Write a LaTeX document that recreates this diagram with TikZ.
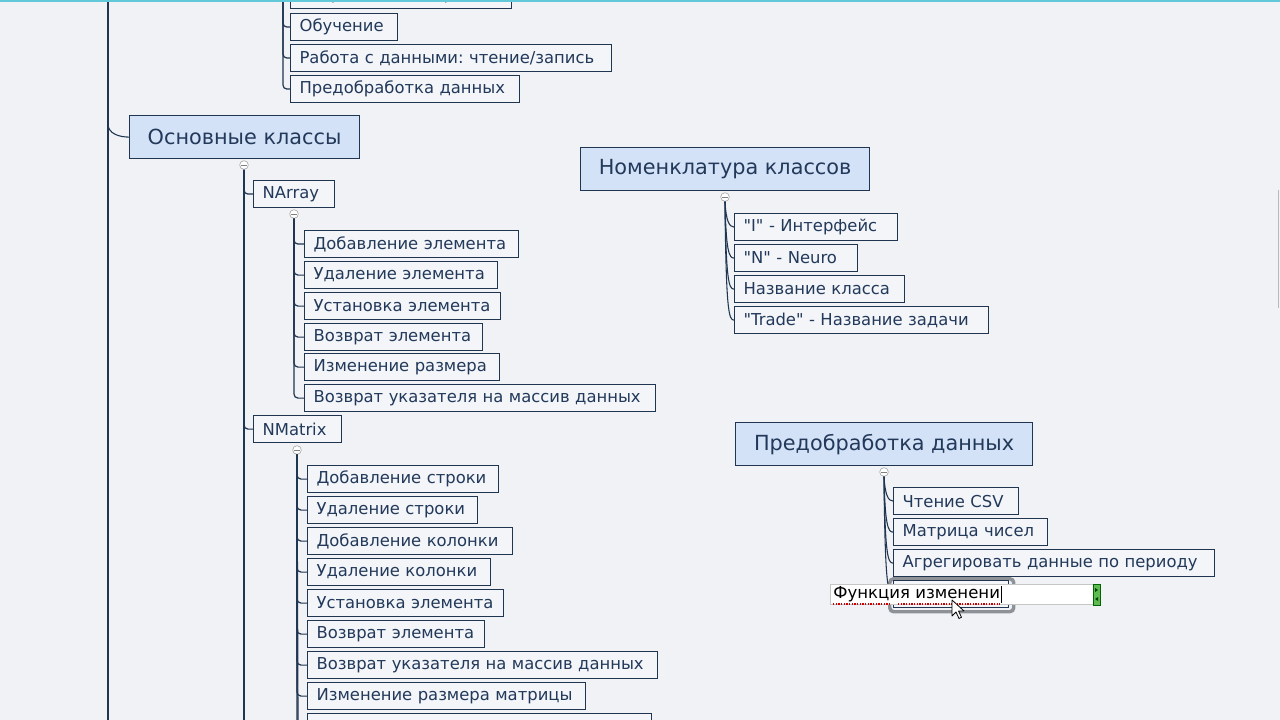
\documentclass[tikz,border=0pt]{standalone}
\usepackage{fontspec}
\setmainfont{DejaVu Sans}[Ligatures=TeXOff]
\usetikzlibrary{calc}
\definecolor{bg}{HTML}{F0F2F6}
\definecolor{ln}{HTML}{1F3550}
\definecolor{tx}{HTML}{22395A}
\definecolor{tfill}{HTML}{D4E2F7}
\definecolor{lfill}{HTML}{F3F5F9}
\definecolor{topline}{HTML}{62C9D9}
\definecolor{hlgray}{HTML}{8E9297}
\definecolor{gwfill}{HTML}{5DBB4F}
\newcommand\myleaf[5]{\pgfmathsetmacro\mytw{(#4-18)*0.75}\node[leafbox,text width=\mytw pt] (#1) at (#2,#3) {#5};}
\newcommand\mytitle[5]{\pgfmathsetmacro\mytw{#4*0.75}\node[titlebox,minimum width=\mytw pt] (#1) at (#2,#3) {#5};}
\frenchspacing
\begin{document}
\begin{tikzpicture}[x=0.75pt,y=-0.75pt,
  leafbox/.style={draw=ln, line width=0.9pt, fill=lfill, anchor=north west,
    minimum height=20.25pt, inner xsep=6.75pt, inner ysep=0pt, text=tx,
    font=\fontsize{12.3}{14}\selectfont, align=left},
  titlebox/.style={draw=ln, line width=0.9pt, fill=tfill, anchor=north west,
    minimum height=32.25pt, inner xsep=0pt, inner ysep=0pt, text=tx,
    font=\fontsize{15.6}{19}\selectfont},
  icon/.style={circle, draw=gray!65, fill=white, minimum size=6.5pt, inner sep=0pt, line width=0.5pt,
    path picture={\draw[gray, line width=0.5pt] ([xshift=-2pt]path picture bounding box.center) -- ([xshift=2pt]path picture bounding box.center);}},
  conn/.style={draw=ln, line width=0.9pt, rounded corners=3pt},
  curv/.style={draw=ln, line width=0.8pt}
]
\useasboundingbox (0,0) rectangle (1280,720);
\clip (0,0) rectangle (1280,720);
\fill[bg] (0,0) rectangle (1280,720);

% main vertical line
\coordinate (mtop) at (108,-5);
\coordinate (mbot) at (108,725);
\coordinate (mj) at (108,124);
\draw[conn] (mtop) -- (mbot);

% top group
\coordinate (ttop) at (283,-5);
\myleaf{t0}{290}{-19}{221}{Сохранение, открытие}
\myleaf{t1}{290}{13}{107}{Обучение}
\myleaf{t2}{290}{44}{321}{Работа с данными: чтение/запись}
\myleaf{t3}{290}{75}{229}{Предобработка данных}
\foreach \c in {t0,t1,t2,t3} \draw[conn] (ttop) |- (\c.west);

% Основные классы
\mytitle{osn}{129}{115}{230}{Основные классы}
\draw[curv] (mj) to[out=-90,in=180] (osn.west);
\node[icon] (ic1) at (244,165) {};
\coordinate (obot) at (244,725);
\draw[conn] (ic1.south) -- (obot);

\myleaf{narr}{253}{180}{81}{NArray}
\myleaf{nmat}{253}{415}{88}{NMatrix}
\draw[conn] (ic1.south) |- (narr.west);
\draw[conn] (ic1.south) |- (nmat.west);

% NArray children
\node[icon] (ic2) at (294,214) {};
\myleaf{a1}{304}{230}{214}{Добавление элемента}
\myleaf{a2}{304}{261}{193}{Удаление элемента}
\myleaf{a3}{304}{292}{196}{Установка элемента}
\myleaf{a4}{304}{323}{178}{Возврат элемента}
\myleaf{a5}{304}{353}{195}{Изменение размера}
\myleaf{a6}{304}{384}{351}{Возврат указателя на массив данных}
\foreach \c in {a1,a2,a3,a4,a5,a6} \draw[conn] (ic2.south) |- (\c.west);

% NMatrix children
\node[icon] (ic3) at (297,450) {};
\coordinate (mbot2) at (298,725);
\draw[conn] (ic3.south) -- (mbot2);
\myleaf{b1}{307}{465}{191}{Добавление строки}
\myleaf{b2}{307}{496}{170}{Удаление строки}
\myleaf{b3}{307}{527}{205}{Добавление колонки}
\myleaf{b4}{307}{558}{183}{Удаление колонки}
\myleaf{b5}{307}{589}{196}{Установка элемента}
\myleaf{b6}{307}{620}{177}{Возврат элемента}
\myleaf{b7}{307}{651}{350}{Возврат указателя на массив данных}
\myleaf{b8}{307}{682}{278}{Изменение размера матрицы}
\myleaf{b9}{307}{713}{344}{}
\foreach \c in {b1,b2,b3,b4,b5,b6,b7,b8,b9} \draw[conn] (ic3.south) |- (\c.west);

% Номенклатура классов
\mytitle{nom}{580}{147}{289}{Номенклатура классов}
\node[icon] (ic4) at (725,197) {};
\myleaf{n1}{734}{213}{163}{"I" - Интерфейс}
\myleaf{n2}{734}{244}{123}{"N" - Neuro}
\myleaf{n3}{734}{275}{170}{Название класса}
\myleaf{n4}{734}{306}{254}{"Trade" - Название задачи}
\foreach \c in {n1,n2,n3,n4}
  \draw[curv] (ic4.south) .. controls ($(ic4.south |- \c.west)+(1,-7)$) and ($(\c.west)+(-5,0)$) .. (\c.west);

% Предобработка данных
\mytitle{pre}{735}{422}{297}{Предобработка данных}
\node[icon] (ic5) at (884,472) {};
\myleaf{p1}{893}{487}{125}{Чтение CSV}
\myleaf{p2}{893}{518}{154}{Матрица чисел}
\myleaf{p3}{893}{549}{321}{Агрегировать данные по периоду}
\node[draw=hlgray, line width=2.6pt, rounded corners=3pt, anchor=north west,
  minimum width=93pt, minimum height=24.75pt, inner sep=0pt] (hl) at (888,577) {};
\myleaf{p4}{893}{580}{115}{}
\foreach \c in {p1,p2,p3,p4}
  \draw[curv] (ic5.south) .. controls ($(ic5.south |- \c.west)+(1,-7)$) and ($(\c.west)+(-5,0)$) .. (\c.west);

% edit field
\node[draw=gray!45, fill=white, line width=0.5pt, anchor=north west,
  minimum width=197.25pt, minimum height=15pt, inner sep=0pt] (edit) at (830,584) {};
\node[anchor=west, inner sep=0pt, font=\fontsize{12.4}{14}\selectfont, text=black] (etxt) at (833,594.5) {Функция изменени};
\draw[black, line width=0.7pt] ([xshift=1pt]etxt.north east) -- ([xshift=1pt]etxt.south east);
\draw[red!80!black, dash pattern=on 1pt off 1pt, line width=1pt] (833,604) -- (891,604);
\draw[red!80!black, dash pattern=on 1pt off 1pt, line width=1pt] (898,604) -- (1000,604);
\node[fill=gwfill, draw=green!40!black, line width=0.4pt, anchor=north west,
  minimum width=5.25pt, minimum height=15.75pt, inner sep=0pt] (gw) at (1093,584) {};
\fill[green!25!black] (1095,588) -- (1098,590) -- (1095,592) -- cycle;
\fill[green!25!black] (1098,597) -- (1095,599) -- (1098,601) -- cycle;

% mouse pointer
\filldraw[fill=white, draw=black, line width=0.6pt, line join=round]
  (952,600) -- ++(0,16) -- ++(4,-4) -- ++(3,6.5) -- ++(2.5,-1.2) -- ++(-3,-6.3) -- ++(5.5,0) -- cycle;

% top accent line and right scrollbar trace
\fill[topline] (0,0) rectangle (1280,2);
\draw[gray!55, line width=0.6pt] (1278,190) -- (1278,308);
\end{tikzpicture}
\end{document}
